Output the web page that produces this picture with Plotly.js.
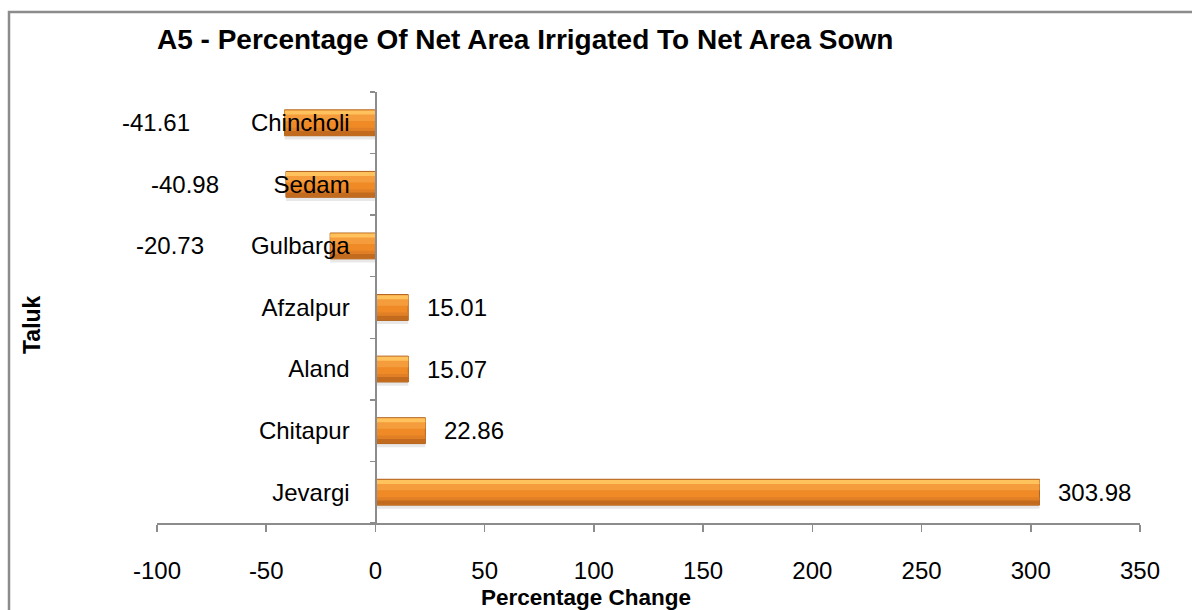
<!DOCTYPE html>
<html>
<head>
<meta charset="utf-8">
<script src="https://cdn.plot.ly/plotly-3.0.1.min.js"></script>
<style>
  html, body { margin: 0; padding: 0; background: #ffffff; }
  #chart { width: 1192px; height: 610px; }
</style>
</head>
<body>
<div id="chart"></div>
<script>
// Taluks listed bottom to top, as drawn on the category axis
const taluks = ['Jevargi', 'Chitapur', 'Aland', 'Afzalpur', 'Gulbarga', 'Sedam', 'Chincholi'];
// Percentage change of net area irrigated to net area sown
const change = [303.98, 22.86, 15.07, 15.01, -20.73, -40.98, -41.61];
// Horizontal nudge (px) of each value label from its bar end
const labelShift = [17, 17, 17, 17, -160, -101, -129];

const xTicks = [-100, -50, 0, 50, 100, 150, 200, 250, 300, 350];

const FONT = 'Liberation Sans, Arial, sans-serif';
const AXIS_GREY = '#8c8c8c';

// Layered bars give the bevelled, shaded look of each bar
function layer(offset, width, color, line) {
  return {
    type: 'bar',
    orientation: 'h',
    x: change,
    y: taluks,
    offset: offset,
    width: width,
    marker: { color: color, line: line || { width: 0 } },
    hoverinfo: 'skip',
    showlegend: false
  };
}

const traces = [
  layer(-0.27, 0.44, 'rgba(110,110,110,0.16)'),
  layer(-0.21, 0.42, '#ef8a27', { color: '#b0621c', width: 1 }),
  layer(-0.205, 0.075, '#c26a1d'),
  layer(-0.13, 0.05, '#e07f25'),
  layer(0.03, 0.12, '#f59c3c'),
  layer(0.135, 0.065, '#ffc25c')
];

const annotations = change.map((v, i) => ({
  x: v,
  y: taluks[i],
  xref: 'x',
  yref: 'y',
  text: v.toFixed(2),
  showarrow: false,
  xanchor: v >= 0 ? 'left' : 'center',
  xshift: labelShift[i],
  font: { family: FONT, size: 24, color: '#000000' }
}));

annotations.push(
  {
    text: '<b>A5 - Percentage Of Net Area Irrigated To Net Area Sown</b>',
    xref: 'paper', yref: 'paper',
    x: (525 - 157) / 983, y: (523 - 40) / 431,
    xanchor: 'center', yanchor: 'middle',
    showarrow: false,
    font: { family: FONT, size: 28, color: '#000000' }
  },
  {
    text: '<b>Percentage Change</b>',
    xref: 'paper', yref: 'paper',
    x: (586 - 157) / 983, y: (523 - 597) / 431,
    xanchor: 'center', yanchor: 'middle',
    showarrow: false,
    font: { family: FONT, size: 22.5, color: '#000000' }
  },
  {
    text: '<b>Taluk</b>',
    xref: 'paper', yref: 'paper',
    x: (32 - 157) / 983, y: (523 - 324) / 431,
    xanchor: 'center', yanchor: 'middle',
    textangle: -90,
    showarrow: false,
    font: { family: FONT, size: 23, color: '#000000' }
  }
);

const layout = {
  width: 1192,
  height: 610,
  margin: { l: 157, r: 52, t: 92, b: 87 },
  paper_bgcolor: '#ffffff',
  plot_bgcolor: 'rgba(0,0,0,0)',
  barmode: 'overlay',
  hovermode: false,
  showlegend: false,
  font: { family: FONT, size: 24, color: '#000000' },
  xaxis: {
    range: [-100, 350],
    tickvals: xTicks,
    ticktext: xTicks.map(String),
    showgrid: false,
    zeroline: false,
    showline: true,
    linecolor: AXIS_GREY,
    linewidth: 1.5,
    ticks: 'outside',
    ticklen: 7,
    tickcolor: AXIS_GREY,
    tickwidth: 1.5,
    ticklabelstandoff: 19,
    tickfont: { family: FONT, size: 24, color: '#000000' },
    fixedrange: true
  },
  yaxis: {
    type: 'category',
    categoryorder: 'array',
    categoryarray: taluks,
    range: [-0.5, taluks.length - 0.5],
    anchor: 'free',
    position: 100 / 450,
    showgrid: false,
    zeroline: false,
    showline: true,
    linecolor: AXIS_GREY,
    linewidth: 1.5,
    ticks: 'outside',
    tickson: 'boundaries',
    ticklen: 5,
    tickcolor: AXIS_GREY,
    tickwidth: 1.5,
    ticklabelstandoff: 21,
    tickfont: { family: FONT, size: 24, color: '#000000' },
    fixedrange: true
  },
  shapes: [
    {
      type: 'rect',
      xref: 'paper', yref: 'paper',
      x0: (9 - 157) / 983, x1: (1300 - 157) / 983,
      y0: (523 - 700) / 431, y1: (523 - 12) / 431,
      line: { color: AXIS_GREY, width: 2.5 },
      fillcolor: 'rgba(0,0,0,0)',
      layer: 'below'
    }
  ],
  annotations: annotations
};

Plotly.newPlot('chart', traces, layout, { displayModeBar: false, staticPlot: true });
</script>
</body>
</html>
